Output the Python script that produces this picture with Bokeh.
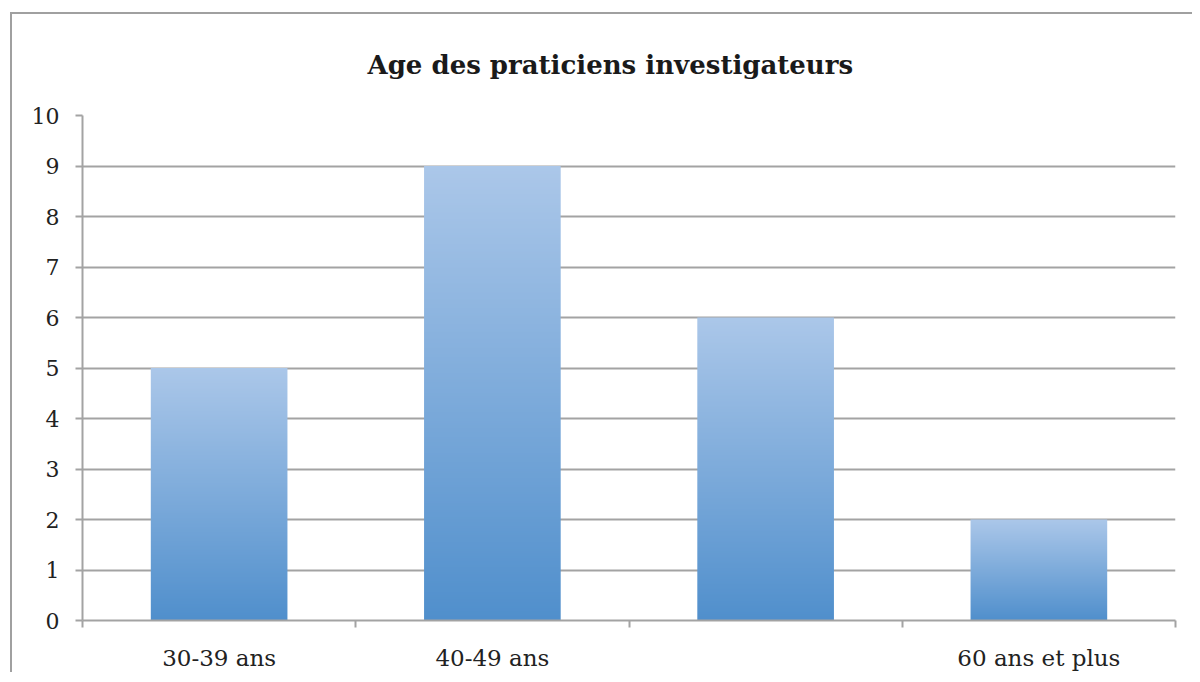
import numpy as np
from bokeh.plotting import figure
from bokeh.models import FixedTicker, Range1d
from bokeh.embed import file_html
from bokeh.resources import INLINE

title = "Age des praticiens investigateurs"
categories = ["30-39 ans", "40-49 ans", "", "60 ans et plus"]
values = [5, 9, 6, 2]
y_ticks = [0, 1, 2, 3, 4, 5, 6, 7, 8, 9, 10]

TOP_COLOR = (171, 199, 233)
BOTTOM_COLOR = (80, 143, 204)
N_ROWS = 256
BAR_WIDTH = 0.5
GRID = "#a3a3a3"
FONT = "DejaVu Serif"

p = figure(width=1182, height=660, output_backend="svg", toolbar_location=None,
           x_range=Range1d(0, len(categories)), y_range=Range1d(0, 10),
           min_border_left=70, min_border_right=19, min_border_top=101,
           min_border_bottom=54)
p.styles = {"border-left": "2px solid #a0a0a0", "border-top": "2px solid #a0a0a0",
            "margin-top": "12px", "margin-left": "10px"}

# vertical gradient image (bottom row first)
t = np.linspace(0.0, 1.0, N_ROWS)
rgba = np.zeros((N_ROWS, 1, 4), dtype=np.uint8)
for j in range(3):
    rgba[:, 0, j] = np.round(BOTTOM_COLOR[j] + (TOP_COLOR[j] - BOTTOM_COLOR[j]) * t).astype(np.uint8)
rgba[:, 0, 3] = 255
grad = rgba.view(dtype=np.uint32).reshape((N_ROWS, 1))

for i, v in enumerate(values):
    c = i + 0.5
    p.image_rgba(image=[grad], x=c - BAR_WIDTH / 2, y=0, dw=BAR_WIDTH, dh=v)

p.outline_line_color = None
p.background_fill_color = "white"
p.border_fill_color = "white"

p.xgrid.visible = False
p.ygrid.ticker = FixedTicker(ticks=y_ticks)
p.ygrid.grid_line_color = GRID
p.ygrid.grid_line_width = 2

p.yaxis.ticker = FixedTicker(ticks=y_ticks)
p.yaxis.axis_line_color = GRID
p.yaxis.axis_line_width = 2
p.yaxis.major_tick_line_color = GRID
p.yaxis.major_tick_line_width = 2
p.yaxis.major_tick_out = 7
p.yaxis.major_tick_in = 0
p.yaxis.minor_tick_line_color = None
p.yaxis.major_label_standoff = 16
p.yaxis.major_label_text_font = FONT
p.yaxis.major_label_text_font_size = "22px"
p.yaxis.major_label_text_color = "#222222"

centers = [i + 0.5 for i in range(len(categories))]
bounds = list(range(len(categories) + 1))
p.xaxis.ticker = FixedTicker(ticks=centers, minor_ticks=bounds)
p.xaxis.major_label_overrides = {c: lab for c, lab in zip(centers, categories)}
p.xaxis.axis_line_color = GRID
p.xaxis.axis_line_width = 2
p.xaxis.major_tick_line_color = None
p.xaxis.minor_tick_line_color = GRID
p.xaxis.minor_tick_line_width = 2
p.xaxis.minor_tick_out = 7
p.xaxis.minor_tick_in = 0
p.xaxis.major_tick_out = 7
p.xaxis.major_label_standoff = 17
p.xaxis.major_label_text_font = FONT
p.xaxis.major_label_text_font_size = "23px"
p.xaxis.major_label_text_color = "#222222"

p.title.text = title
p.title.align = "left"
p.title.offset = 285
p.title.standoff = 68
p.title.vertical_align = "top"
p.title.text_font = FONT
p.title.text_font_style = "bold"
p.title.text_font_size = "26px"
p.title.text_color = "#1a1a1a"

open("out.html", "w").write(file_html(p, INLINE))
